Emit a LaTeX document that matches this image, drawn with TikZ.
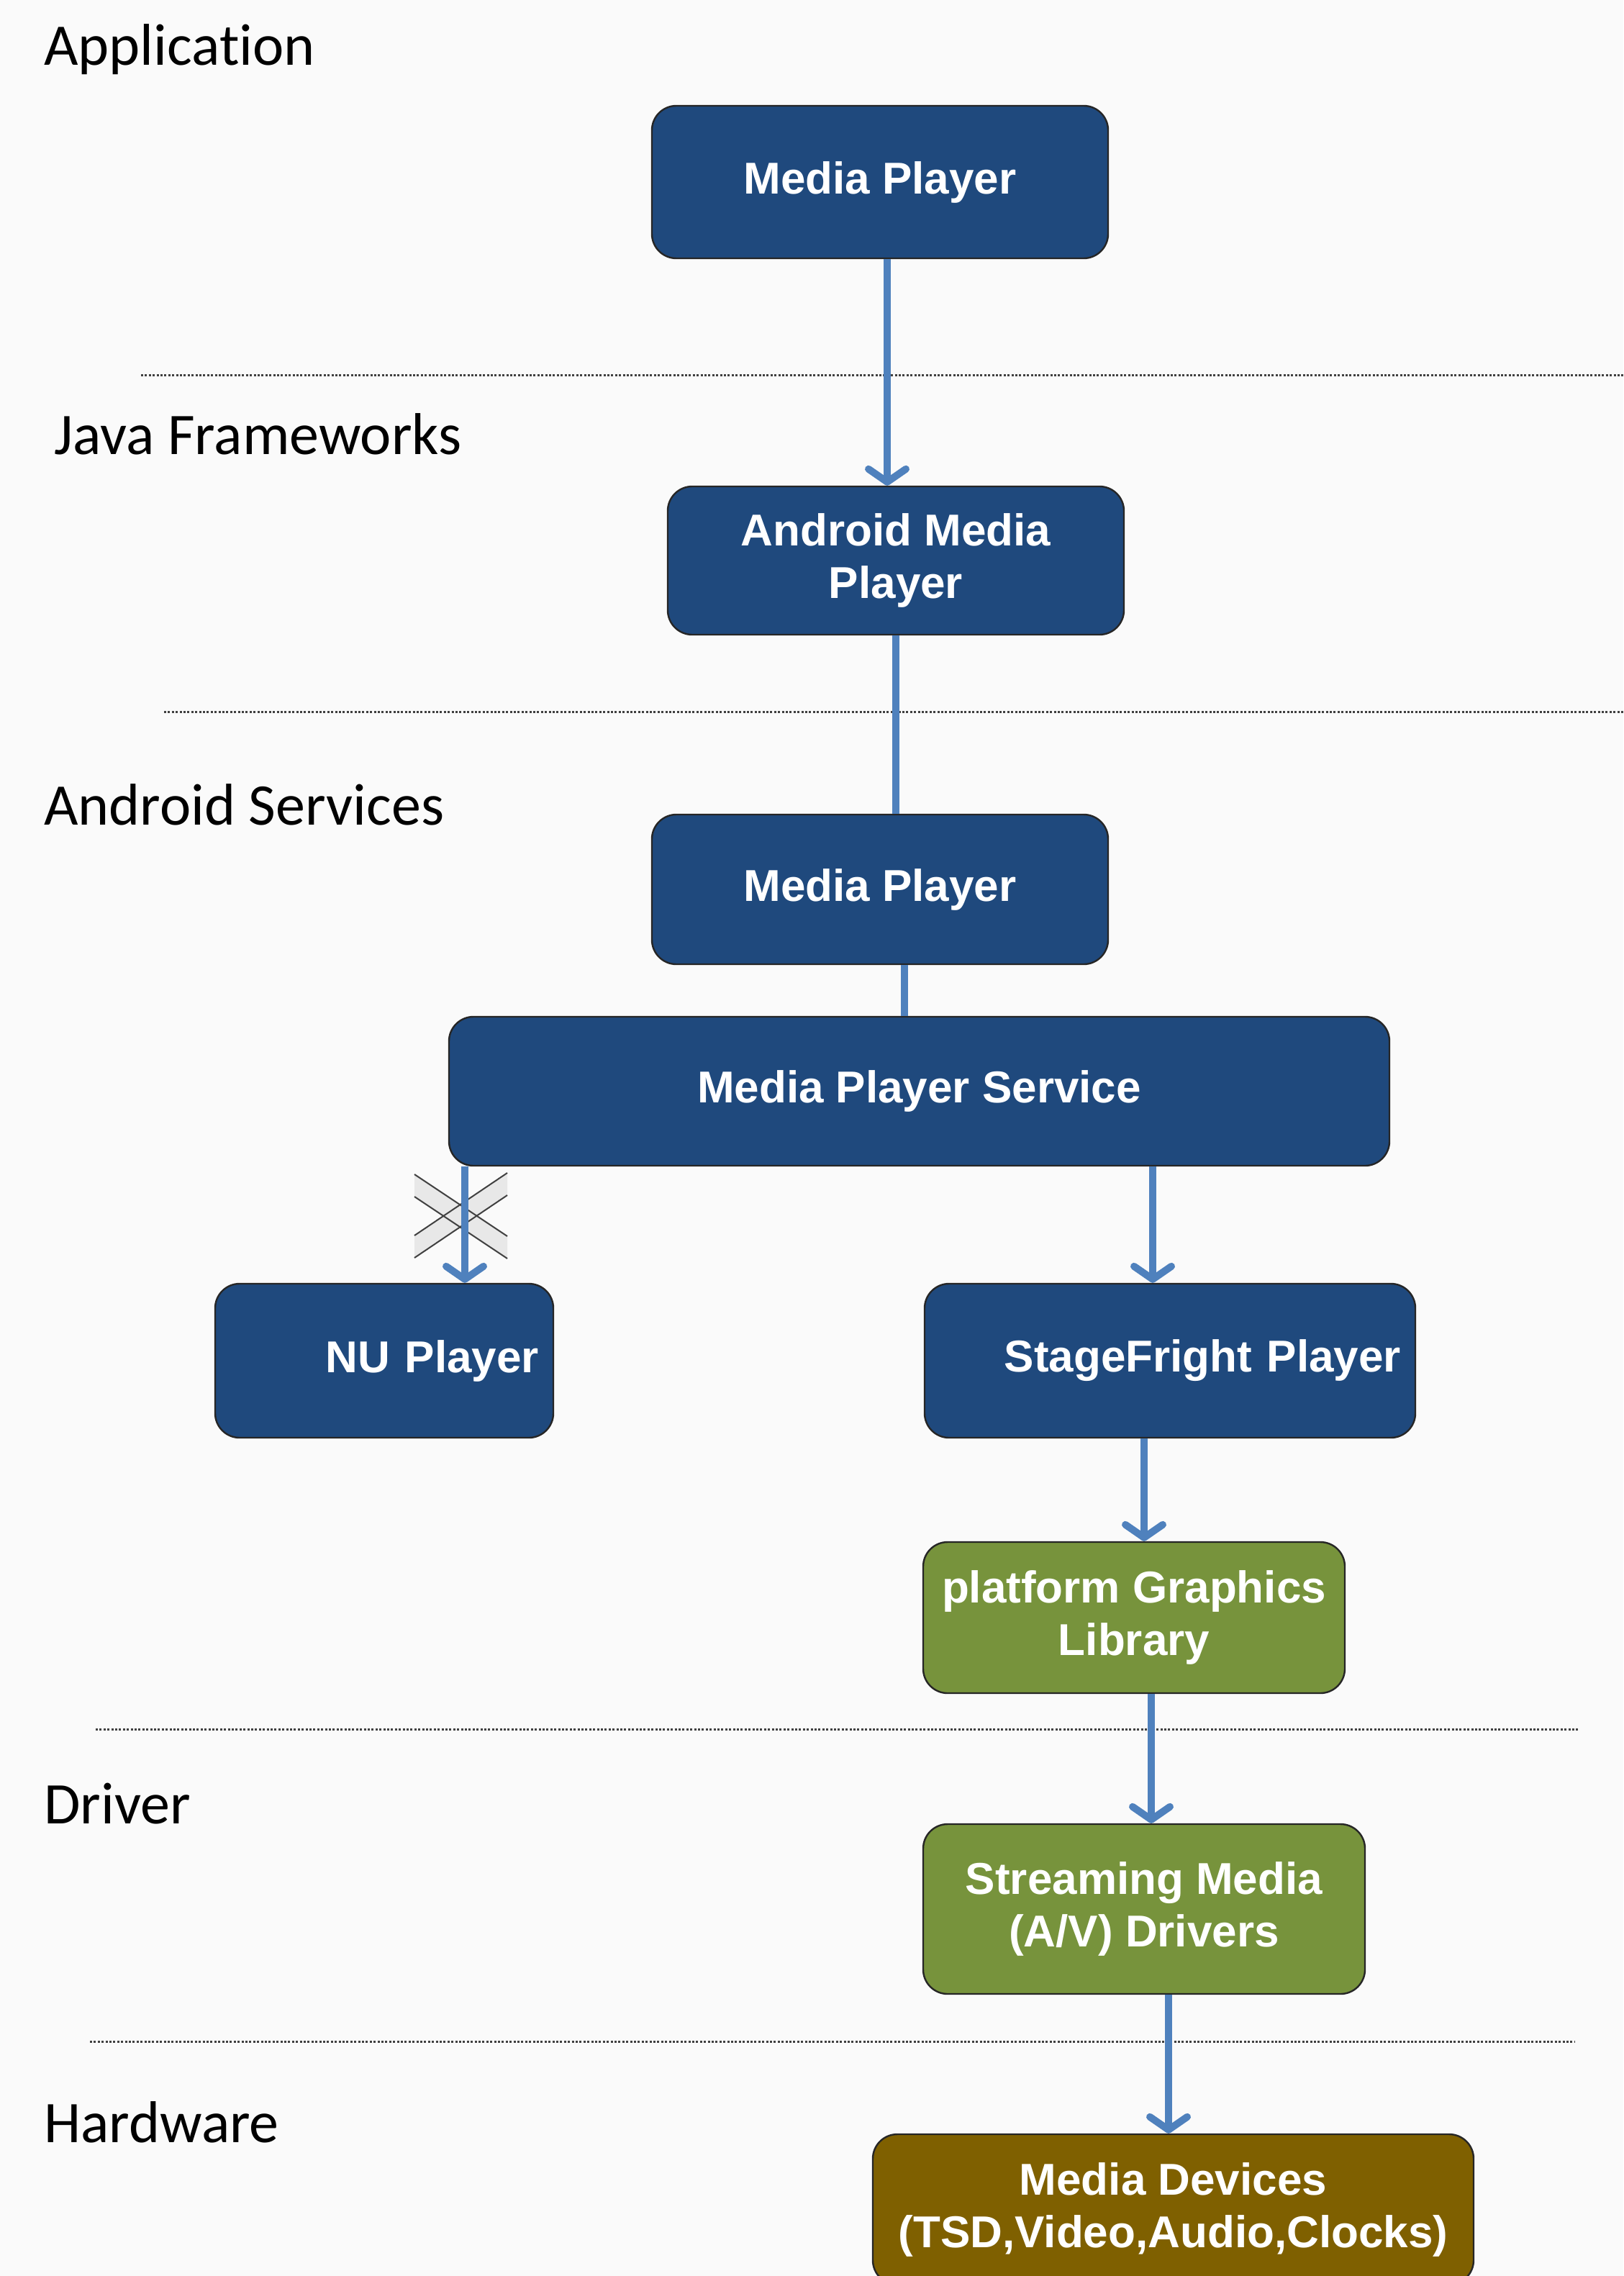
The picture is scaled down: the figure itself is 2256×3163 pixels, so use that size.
\documentclass[tikz,border=0pt]{standalone}
\usepackage{fontspec}
\setmainfont{Liberation Sans}
\newfontfamily\lblfont[Ligatures={NoCommon}]{Carlito}
\usetikzlibrary{arrows.meta}
\definecolor{bg}{RGB}{250,250,250}
\definecolor{navy}{RGB}{31,73,125}
\definecolor{olivebox}{RGB}{119,147,60}
\definecolor{brownfill}{RGB}{127,96,0}
\definecolor{arrowblue}{RGB}{79,129,189}
\definecolor{xgray}{RGB}{232,232,232}
\begin{document}
\begin{tikzpicture}[x=0.5pt,y=-0.5pt,
  box/.style={draw=black!85, line width=1.2pt, rounded corners=17pt, inner sep=0pt,
    text=white, font=\bfseries\fontsize{31}{36.5}\selectfont, align=center},
  bluebox/.style={box, fill=navy},
  greenbox/.style={box, fill=olivebox},
  hwbox/.style={box, fill=brownfill},
  sz/.style 2 args={minimum width=#1*0.5pt, minimum height=#2*0.5pt},
  layer/.style={anchor=base west, font=\lblfont\fontsize{41}{48}\selectfont, text=black, inner sep=0pt},
  conn/.style={draw=arrowblue, line width=5pt},
  arr/.style={conn, -{Straight Barb[length=9pt,width=26pt,round]}},
  sepline/.style={draw=black!75, line width=1.5pt, dash pattern=on 1.5pt off 1.2pt},
  xband/.style={fill=xgray, draw=none},
  xedge/.style={draw=black!75, line width=1pt}
]
\useasboundingbox (0,0) rectangle (2256,3163);
\clip (0,0) rectangle (2256,3163);
\fill[bg] (0,0) rectangle (2256,3163);

% layer labels
\node[layer] (lapp) at (61,91) {Application};
\node[layer] (ljava) at (75,631) {Java Frameworks};
\node[layer] (lsvc) at (61,1146) {Android Services};
\node[layer] (ldrv) at (61,2534) {Driver};
\node[layer] (lhw) at (61,2977) {Hardware};

% separators
\draw[sepline] (196,521) -- (2256,521);
\draw[sepline] (228,989) -- (2256,989);
\draw[sepline] (133,2403) -- (2193,2403);
\draw[sepline] (125,2837) -- (2189,2837);

% boxes
\node[bluebox, sz={634}{212}] (mp1) at (1223,253) {Media Player};
\node[bluebox, sz={634}{206}] (amp) at (1245,779) {Android Media\\Player};
\node[bluebox, sz={634}{208}] (mp2) at (1223,1236) {Media Player};
\node[bluebox, sz={1307}{207}] (mps) at (1277.5,1516.5) {Media Player Service};
\node[bluebox, sz={470}{214}, text width=215pt, align=right] (nu) at (534,1891) {NU Player};
\node[bluebox, sz={682}{214}, text width=321pt, align=right] (sf) at (1626,1891) {StageFright Player};
\node[greenbox, sz={586}{210}] (pgl) at (1576,2248) {platform Graphics\\Library};
\node[greenbox, sz={614}{236}] (smd) at (1590,2653) {Streaming Media\\(A/V) Drivers};
\node[hwbox, sz={835}{209}] (md) at (1630.5,3070.5) {Media Devices\\(TSD,Video,Audio,Clocks)};

% connector x positions
\coordinate (x1) at (1233,0);
\coordinate (x2) at (1245,0);
\coordinate (x3) at (1257,0);
\coordinate (x4) at (646,0);
\coordinate (x5) at (1602,0);
\coordinate (x6) at (1590,0);
\coordinate (x7) at (1600,0);
\coordinate (x8) at (1624,0);

% crossed-out mark
\fill[xband] (576,1632) -- (705,1718) -- (705,1749) -- (576,1663) -- cycle;
\fill[xband] (576,1717) -- (705,1630) -- (705,1661) -- (576,1748) -- cycle;
\draw[xedge] (576,1632) -- (705,1718);
\draw[xedge] (576,1663) -- (705,1749);
\draw[xedge] (576,1717) -- (705,1630);
\draw[xedge] (576,1748) -- (705,1661);

% connectors
\draw[arr] (mp1.south -| x1) -- (amp.north -| x1);
\draw[conn] (amp.south -| x2) -- (mp2.north -| x2);
\draw[conn] (mp2.south -| x3) -- (mps.north -| x3);
\draw[arr] (mps.south -| x4) -- (nu.north -| x4);
\draw[arr] (mps.south -| x5) -- (sf.north -| x5);
\draw[arr] (sf.south -| x6) -- (pgl.north -| x6);
\draw[arr] (pgl.south -| x7) -- (smd.north -| x7);
\draw[arr] (smd.south -| x8) -- (md.north -| x8);
\end{tikzpicture}
\end{document}
